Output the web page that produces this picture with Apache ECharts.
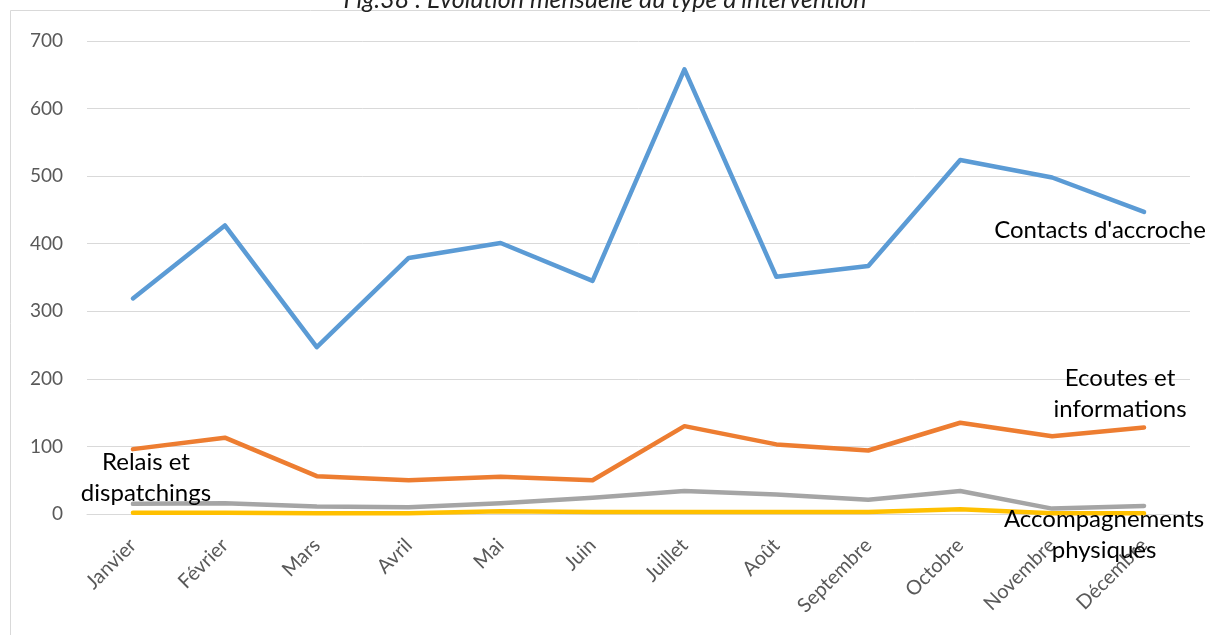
<!DOCTYPE html>
<html>
<head>
<meta charset="utf-8">
<script src="https://cdn.jsdelivr.net/npm/echarts@6/dist/echarts.min.js"></script>
<style>
  html, body { margin: 0; padding: 0; background: #fff; }
  #chart { width: 1210px; height: 635px; }
</style>
</head>
<body>
<div id="chart"></div>
<script>
// Months of the year (category axis)
const months = ['Janvier', 'Février', 'Mars', 'Avril', 'Mai', 'Juin', 'Juillet', 'Août', 'Septembre', 'Octobre', 'Novembre', 'Décembre'];

// Monthly counts per type of intervention
const contactsAccroche = [319, 427, 247, 379, 401, 345, 658, 351, 367, 524, 498, 447];
const ecoutesInformations = [96, 113, 56, 50, 55, 50, 130, 103, 94, 135, 115, 128];
const relaisDispatchings = [15, 16, 11, 10, 16, 24, 34, 29, 21, 34, 8, 12];
const accompagnementsPhysiques = [2, 2, 1, 1, 4, 3, 3, 3, 3, 7, 1, 1];

// Y axis ticks
const yTicks = [0, 100, 200, 300, 400, 500, 600, 700];

const FONT = 'Lato, "Open Sans", sans-serif';

// Series name labels, attached to one point of each line; pos is the
// label centre relative to that point, in pixels
function withLabel(values, index, text, pos) {
  return values.map((v, i) => i !== index ? v : {
    value: v,
    label: {
      show: true,
      position: pos,
      formatter: text,
      color: '#000',
      fontFamily: FONT,
      fontSize: 24,
      lineHeight: 31,
      align: 'center',
      verticalAlign: 'middle'
    }
  });
}

const series = [
  { name: "Contacts d'accroche", color: '#5B9BD5', data: withLabel(contactsAccroche, 11, "Contacts d'accroche", [-44, 18]) },
  { name: 'Ecoutes et informations', color: '#ED7D31', data: withLabel(ecoutesInformations, 11, 'Ecoutes et\ninformations', [-24, -34]) },
  { name: 'Relais et dispatchings', color: '#A5A5A5', data: withLabel(relaisDispatchings, 0, 'Relais et\ndispatchings', [13, -26]) },
  { name: 'Accompagnements physiques', color: '#FFC000', data: withLabel(accompagnementsPhysiques, 11, 'Accompagnements\nphysiques', [-40, 21]) }
].map((s, k) => ({
  name: s.name,
  type: 'line',
  data: s.data,
  symbol: 'circle',
  symbolSize: 0,
  showSymbol: true,
  z: 10 - k,
  lineStyle: { color: s.color, width: 4.5, cap: 'round', join: 'round' },
  itemStyle: { color: s.color },
  labelLayout: { hideOverlap: false },
  emphasis: { disabled: true },
  animation: false
}));

const chart = echarts.init(document.getElementById('chart'), null, { renderer: 'canvas' });
chart.setOption({
  backgroundColor: '#fff',
  animation: false,
  title: {
    text: "Fig.38 : Evolution mensuelle du type d'intervention",
    left: 'center',
    top: -18,
    textStyle: { fontFamily: FONT, fontStyle: 'italic', fontWeight: 'normal', fontSize: 25, color: '#222' }
  },
  graphic: [{
    type: 'rect',
    shape: { x: 10.5, y: 10.5, width: 1250, height: 700 },
    style: { fill: 'none', stroke: '#d9d9d9', lineWidth: 1 },
    silent: true,
    z: -1
  }],
  grid: { left: 87, right: 20, top: 41, bottom: 121, containLabel: false },
  xAxis: {
    type: 'category',
    data: months,
    boundaryGap: true,
    axisLine: { show: true, lineStyle: { color: '#d9d9d9', width: 1 } },
    axisTick: { show: false },
    axisLabel: {
      rotate: 45,
      interval: 0,
      margin: 28,
      color: '#595959',
      fontFamily: FONT,
      fontSize: 20
    }
  },
  yAxis: {
    type: 'value',
    min: yTicks[0],
    max: yTicks[yTicks.length - 1],
    interval: yTicks[1] - yTicks[0],
    axisLine: { show: false },
    axisTick: { show: false },
    splitLine: { lineStyle: { color: '#d9d9d9', width: 1 } },
    axisLabel: { color: '#595959', fontFamily: FONT, fontSize: 19, margin: 24 }
  },
  series: series
});
</script>
</body>
</html>
